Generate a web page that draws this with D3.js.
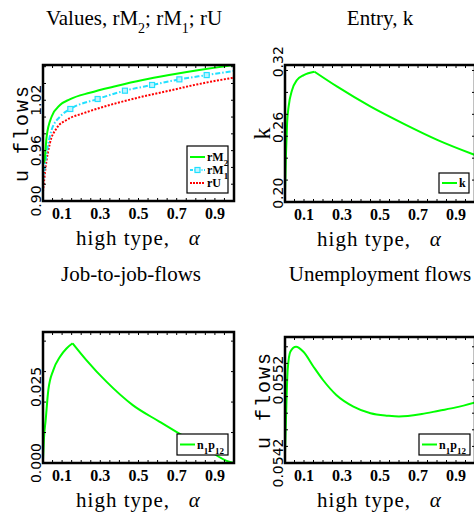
<!DOCTYPE html>
<html><head><meta charset="utf-8">
<script src="https://cdn.jsdelivr.net/npm/d3@7"></script>
<style>body{margin:0;background:#fff;overflow:hidden}svg{display:block}</style>
</head><body>
<script>
// ---------- data ----------
const alphaTicks = [0.1, 0.3, 0.5, 0.7, 0.9];
const valuesTicks = [0.90, 0.96, 1.02];
const entryTicks = [0.20, 0.26, 0.32];
const jjTicks = [0.000, 0.025];
const ufTicks = [0.0542, 0.0552];

const rM2 = [[0,0.945],[0.007,0.9468],[0.019,0.9766],[0.045,1.0004],[0.089,1.0143],[0.14,1.0211],[0.245,1.029],[0.384,1.037],[0.522,1.0441],[0.66,1.050],[0.818,1.056],[1.0,1.062]];
const rM1 = [[0,0.923],[0.019,0.9568],[0.045,0.9846],[0.089,1.0004],[0.143,1.0096],[0.286,1.0215],[0.429,1.0314],[0.571,1.0382],[0.714,1.0449],[0.857,1.050],[1.0,1.055]];
const rM1Markers = [[0.143,1.0096],[0.286,1.0215],[0.429,1.0314],[0.571,1.0382],[0.714,1.0449],[0.857,1.050]];
const rU = [[0,0.911],[0.014,0.9409],[0.036,0.9687],[0.071,0.9866],[0.123,0.9965],[0.21,1.0044],[0.349,1.0143],[0.505,1.0235],[0.66,1.0314],[0.818,1.0394],[1.0,1.047]];

const entryK = [[0,0.200],[0.005,0.235],[0.011,0.2638],[0.019,0.279],[0.037,0.294],[0.063,0.3033],[0.099,0.3078],[0.155,0.3109],[0.275,0.2972],[0.451,0.279],[0.628,0.2631],[0.804,0.2485],[1.0,0.2349]];

const jjFlows = [[0,0.001],[0.005,0.008],[0.014,0.0141],[0.028,0.024],[0.054,0.0305],[0.089,0.0349],[0.123,0.0376],[0.155,0.0393],[0.227,0.0338],[0.332,0.0267],[0.47,0.019],[0.609,0.0136],[0.696,0.0103],[0.85,0.0048],[0.974,0.0004],[1.0,0.0]];

const uFlows = [[0,0.05432],[0.005,0.05472],[0.014,0.05532],[0.028,0.05554],[0.058,0.05560],[0.097,0.05554],[0.15,0.05536],[0.2,0.05520],[0.27,0.05502],[0.36,0.05488],[0.45,0.05480],[0.54,0.05477],[0.6,0.05476],[0.72,0.05479],[0.81,0.05483],[0.90,0.05487],[1.0,0.05493]];

// ---------- drawing ----------
const W = 474, H = 516;
const svg = d3.select("body").append("svg").attr("width", W).attr("height", H);
let clipId = 0;

function drawPanel(o) {
  const g = svg.append("g");
  const x = d3.scaleLinear().domain([0, 1]).range([o.x0, o.x1]);
  const y = d3.scaleLinear().domain(o.yDomain).range([o.y1, o.y0]);
  const id = "clip" + (clipId++);
  svg.append("clipPath").attr("id", id).append("rect")
    .attr("x", o.x0).attr("y", o.y0).attr("width", o.x1 - o.x0).attr("height", o.y1 - o.y0);

  // title
  const t = g.append("text").attr("x", o.titleX).attr("y", o.titleY)
    .attr("text-anchor", "middle").attr("font-family", "Liberation Serif").attr("font-size", 21);
  o.title.forEach(p => {
    const ts = t.append("tspan").text(p.t);
    if (p.sub) ts.attr("baseline-shift", "sub").attr("font-size", 14);
  });

  // series
  const lines = g.append("g").attr("clip-path", `url(#${id})`);
  o.series.forEach(s => {
    const line = d3.line().x(d => x(d[0])).y(d => y(d[1])).curve(d3.curveMonotoneX);
    let parts = [s.data];
    if (s.kink) {
      const k = d3.maxIndex(s.data, d => d[1]);
      parts = [s.data.slice(0, k + 1), s.data.slice(k)];
    }
    parts.forEach(pd => {
      lines.append("path").attr("d", line(pd)).attr("fill", "none")
        .attr("stroke", s.color).attr("stroke-width", s.width || 2)
        .attr("stroke-dasharray", s.dash || null);
    });
    if (s.markers) {
      lines.selectAll(null).data(s.markers).enter().append("rect")
        .attr("x", d => x(d[0]) - 2.5).attr("y", d => y(d[1]) - 2.5)
        .attr("width", 5).attr("height", 5).attr("fill", "#bff4ff")
        .attr("stroke", s.color).attr("stroke-width", 1.2);
    }
  });

  // minor ticks
  const tk = g.append("g").attr("stroke", "#000").attr("stroke-width", 1);
  d3.range(0.05, 1, 0.05).forEach(v => {
    tk.append("line").attr("x1", x(v)).attr("x2", x(v)).attr("y1", o.y1).attr("y2", o.y1 - 3);
    tk.append("line").attr("x1", x(v)).attr("x2", x(v)).attr("y1", o.y0).attr("y2", o.y0 + 3);
  });
  d3.range(o.yDomain[0] + o.yMinor, o.yDomain[1], o.yMinor).forEach(v => {
    tk.append("line").attr("x1", o.x0).attr("x2", o.x0 + 3).attr("y1", y(v)).attr("y2", y(v));
    tk.append("line").attr("x1", o.x1).attr("x2", o.x1 - 3).attr("y1", y(v)).attr("y2", y(v));
  });

  // frame
  g.append("rect").attr("x", o.x0).attr("y", o.y0).attr("width", o.x1 - o.x0).attr("height", o.y1 - o.y0)
    .attr("fill", "none").attr("stroke", "#000").attr("stroke-width", 2.5);

  // x tick labels
  g.selectAll(null).data(alphaTicks).enter().append("text")
    .attr("x", d => x(d)).attr("y", o.y1 + 18).attr("text-anchor", "middle")
    .attr("font-family", "Liberation Serif").attr("font-weight", "bold").attr("font-size", 16)
    .text(d => d3.format(".1f")(d));

  // y tick labels (rotated)
  g.selectAll(null).data(o.yTicks).enter().append("text")
    .attr("transform", d => `translate(${o.x0 - 2},${y(d)}) rotate(-90)`)
    .attr("text-anchor", "middle").attr("font-family", "DejaVu Sans").attr("font-size", 14)
    .text(d => d3.format(o.yFmt)(d));

  // x label
  const xl = g.append("text").attr("x", (o.x0 + Math.min(o.x1, 474)) / 2 + 0).attr("y", o.y1 + 44)
    .attr("text-anchor", "middle").attr("font-family", "Liberation Serif").attr("font-size", 21)
    .attr("letter-spacing", 1).style("white-space", "pre");
  xl.append("tspan").text("high type,   ");
  xl.append("tspan").attr("font-style", "italic").text("α");

  // y label
  if (o.yLabel) {
    g.append("text").attr("transform", `translate(${o.yLabelX},${(o.y0 + o.y1) / 2}) rotate(-90)`)
      .attr("text-anchor", "middle").attr("font-family", o.yLabelFont).attr("font-size", o.yLabelSize)
      .attr("letter-spacing", o.yLabelSpacing || 0).style("white-space", "pre").text(o.yLabel);
  }

  // legend
  const L = o.legend;
  const lg = g.append("g");
  lg.append("rect").attr("x", L.x).attr("y", L.y).attr("width", L.w).attr("height", L.h)
    .attr("fill", "#fff").attr("stroke", "#000").attr("stroke-width", 1.2);
  L.items.forEach((it, i) => {
    const yy = L.y + L.first + i * L.step;
    lg.append("line").attr("x1", L.x + 3).attr("x2", L.x + 18).attr("y1", yy).attr("y2", yy)
      .attr("stroke", it.color).attr("stroke-width", 2).attr("stroke-dasharray", it.dash || null);
    if (it.marker) lg.append("rect").attr("x", L.x + 8).attr("y", yy - 2.5).attr("width", 5).attr("height", 5)
      .attr("fill", "#bff4ff").attr("stroke", it.color).attr("stroke-width", 1.2);
    const tx = lg.append("text").attr("x", L.x + 20).attr("y", yy + 4)
      .attr("font-family", "Liberation Serif").attr("font-weight", "bold").attr("font-size", 12);
    it.label.forEach(p => {
      const ts = tx.append("tspan").text(p.t);
      if (p.sub) ts.attr("baseline-shift", "sub").attr("font-size", 9);
    });
  });
}

const cyan = "#22e0ff";

drawPanel({
  x0: 43, x1: 234, y0: 65, y1: 201, yDomain: [0.9, 1.062], yMinor: 0.02,
  yTicks: valuesTicks, yFmt: ".2f",
  title: [{t: "Values, rM"}, {t: "2", sub: true}, {t: "; rM"}, {t: "1", sub: true}, {t: "; rU"}],
  titleX: 134, titleY: 25,
  series: [
    {data: rU, color: "#ff0000", dash: "2,1.5"},
    {data: rM1, color: cyan, dash: "5,2,1.5,2", markers: rM1Markers},
    {data: rM2, color: "#00ff00"}
  ],
  yLabel: "u flows", yLabelX: 28, yLabelFont: "Liberation Mono", yLabelSize: 20, yLabelSpacing: 2,
  legend: {x: 187, y: 146, w: 41, h: 47, first: 11, step: 13, items: [
    {color: "#00ff00", label: [{t: "rM"}, {t: "2", sub: true}]},
    {color: cyan, dash: "3,1.5,1,1.5", marker: true, label: [{t: "rM"}, {t: "1", sub: true}]},
    {color: "#ff0000", dash: "2,1", label: [{t: "rU"}]}
  ]}
});

drawPanel({
  x0: 285, x1: 475, y0: 65, y1: 202, yDomain: [0.192, 0.317], yMinor: 0.02,
  yTicks: entryTicks, yFmt: ".2f",
  title: [{t: "Entry, k"}], titleX: 380, titleY: 25,
  series: [{data: entryK, color: "#00ff00", kink: true}],
  yLabel: "k", yLabelX: 270, yLabelFont: "Liberation Serif", yLabelSize: 24,
  legend: {x: 439, y: 173, w: 30, h: 20, first: 10, step: 13, items: [
    {color: "#00ff00", label: [{t: "k"}]}
  ]}
});

drawPanel({
  x0: 43, x1: 234, y0: 332, y1: 463, yDomain: [0, 0.043], yMinor: 0.01,
  yTicks: jjTicks, yFmt: ".3f",
  title: [{t: "Job-to-job-flows"}], titleX: 131, titleY: 281,
  series: [{data: jjFlows, color: "#00ff00", kink: true}],
  yLabel: null,
  legend: {x: 177, y: 434, w: 51, h: 21, first: 10.5, step: 13, items: [
    {color: "#00ff00", label: [{t: "n"}, {t: "1", sub: true}, {t: "p"}, {t: "12", sub: true}]}
  ]}
});

drawPanel({
  x0: 285, x1: 475, y0: 337, y1: 463, yDomain: [0.0542, 0.055718], yMinor: 0.0002,
  yTicks: ufTicks, yFmt: ".4f",
  title: [{t: "Unemployment flows"}], titleX: 380, titleY: 281,
  series: [{data: uFlows, color: "#00ff00"}],
  yLabel: "u flows", yLabelX: 270, yLabelFont: "Liberation Mono", yLabelSize: 20, yLabelSpacing: 2,
  legend: {x: 419, y: 434, w: 51, h: 21, first: 10.5, step: 13, items: [
    {color: "#00ff00", label: [{t: "n"}, {t: "1", sub: true}, {t: "p"}, {t: "12", sub: true}]}
  ]}
});
</script>
</body></html>
